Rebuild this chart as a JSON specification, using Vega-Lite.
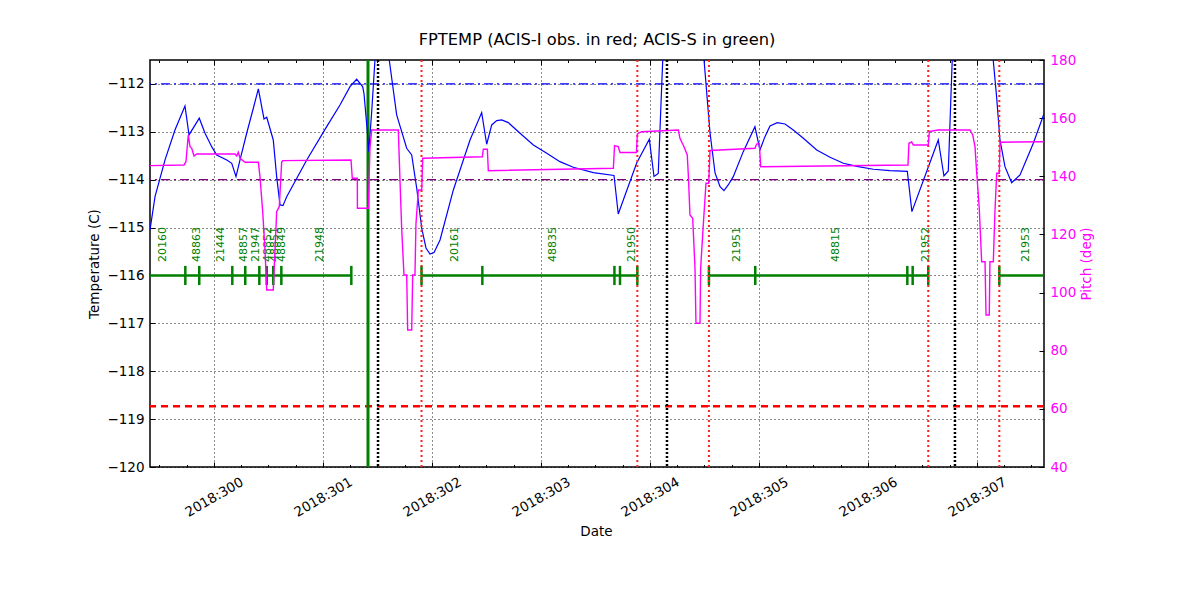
{
  "$schema": "https://vega.github.io/schema/vega-lite/v6.json",
  "width": 894,
  "height": 407,
  "autosize": {"type": "none"},
  "padding": {"left": 150, "top": 60, "right": 156, "bottom": 133},
  "title": {"text": "FPTEMP (ACIS-I obs. in red; ACIS-S in green)", "fontSize": 16.3, "fontWeight": "normal", "font": "DejaVu Sans", "color": "black", "offset": 5, "anchor": "middle"},
  "config": {
    "font": "DejaVu Sans",
    "view": {"stroke": "black", "strokeWidth": 1.5},
    "axis": {"labelFont": "DejaVu Sans", "titleFont": "DejaVu Sans", "labelFontSize": 13.5, "titleFontSize": 13.5, "titleFontWeight": "normal", "labelColor": "black", "titleColor": "black", "tickColor": "black", "domain": false, "gridColor": "black", "gridDash": [1, 3], "gridWidth": 1, "gridOpacity": 0.9}
  },
  "datasets": {
    "one": [{"k": 1}],
    "temp": [
      {"d": 299.413, "t": -115.05}, {"d": 299.459, "t": -114.354}, {"d": 299.551, "t": -113.587}, {"d": 299.642, "t": -112.961},
      {"d": 299.734, "t": -112.459}, {"d": 299.771, "t": -113.065}, {"d": 299.865, "t": -112.716}, {"d": 299.918, "t": -113.03},
      {"d": 299.979, "t": -113.31}, {"d": 300.025, "t": -113.483}, {"d": 300.117, "t": -113.587}, {"d": 300.163, "t": -113.657},
      {"d": 300.202, "t": -113.936}, {"d": 300.239, "t": -113.587}, {"d": 300.3, "t": -113.03}, {"d": 300.361, "t": -112.508},
      {"d": 300.407, "t": -112.104}, {"d": 300.459, "t": -112.731}, {"d": 300.484, "t": -112.696}, {"d": 300.544, "t": -113.17},
      {"d": 300.575, "t": -113.936}, {"d": 300.606, "t": -114.527}, {"d": 300.633, "t": -114.542}, {"d": 300.667, "t": -114.354},
      {"d": 300.851, "t": -113.587}, {"d": 301.034, "t": -112.892}, {"d": 301.156, "t": -112.439}, {"d": 301.248, "t": -112.056},
      {"d": 301.309, "t": -111.902}, {"d": 301.364, "t": -112.056}, {"d": 301.376, "t": -112.195}, {"d": 301.407, "t": -112.996},
      {"d": 301.42, "t": -113.414}, {"d": 301.447, "t": -112.579}, {"d": 301.477, "t": -111.499}, {"d": 301.541, "t": -110.6},
      {"d": 301.608, "t": -111.499}, {"d": 301.676, "t": -112.647}, {"d": 301.768, "t": -113.343}, {"d": 301.814, "t": -113.483},
      {"d": 301.86, "t": -114.179}, {"d": 301.906, "t": -115.014}, {"d": 301.945, "t": -115.426}, {"d": 301.982, "t": -115.551},
      {"d": 302.019, "t": -115.52}, {"d": 302.074, "t": -115.258}, {"d": 302.196, "t": -114.214}, {"d": 302.349, "t": -113.17},
      {"d": 302.456, "t": -112.599}, {"d": 302.502, "t": -113.26}, {"d": 302.548, "t": -112.856}, {"d": 302.594, "t": -112.767},
      {"d": 302.64, "t": -112.752}, {"d": 302.7, "t": -112.808}, {"d": 302.808, "t": -113.03}, {"d": 302.93, "t": -113.274},
      {"d": 303.053, "t": -113.447}, {"d": 303.174, "t": -113.623}, {"d": 303.296, "t": -113.74}, {"d": 303.48, "t": -113.853},
      {"d": 303.67, "t": -113.911}, {"d": 303.709, "t": -114.715}, {"d": 303.878, "t": -113.65}, {"d": 303.994, "t": -113.153},
      {"d": 304.037, "t": -113.932}, {"d": 304.076, "t": -113.87}, {"d": 304.117, "t": -111.499}, {"d": 304.303, "t": -110.5},
      {"d": 304.496, "t": -111.499}, {"d": 304.551, "t": -113.023}, {"d": 304.597, "t": -113.859}, {"d": 304.643, "t": -114.145},
      {"d": 304.679, "t": -114.229}, {"d": 304.718, "t": -114.11}, {"d": 304.764, "t": -113.936}, {"d": 304.856, "t": -113.414},
      {"d": 304.963, "t": -112.892}, {"d": 305.009, "t": -113.379}, {"d": 305.055, "t": -113.101}, {"d": 305.101, "t": -112.877},
      {"d": 305.168, "t": -112.808}, {"d": 305.239, "t": -112.836}, {"d": 305.315, "t": -112.961}, {"d": 305.407, "t": -113.134},
      {"d": 305.53, "t": -113.379}, {"d": 305.652, "t": -113.531}, {"d": 305.774, "t": -113.657}, {"d": 305.911, "t": -113.727},
      {"d": 306.049, "t": -113.782}, {"d": 306.202, "t": -113.811}, {"d": 306.361, "t": -113.824}, {"d": 306.403, "t": -114.667},
      {"d": 306.645, "t": -113.17}, {"d": 306.697, "t": -113.922}, {"d": 306.737, "t": -113.817}, {"d": 306.773, "t": -111.499},
      {"d": 306.954, "t": -110.6}, {"d": 307.149, "t": -111.499}, {"d": 307.18, "t": -112.265}, {"d": 307.211, "t": -113.17},
      {"d": 307.257, "t": -113.727}, {"d": 307.318, "t": -114.062}, {"d": 307.395, "t": -113.901}, {"d": 307.517, "t": -113.239},
      {"d": 307.615, "t": -112.62}
    ],
    "pitch": [
      {"d": 299.413, "p": 143.65}, {"d": 299.725, "p": 143.89}, {"d": 299.743, "p": 145.02}, {"d": 299.764, "p": 154.21},
      {"d": 299.78, "p": 150.18}, {"d": 299.796, "p": 149.63}, {"d": 299.817, "p": 146.98}, {"d": 299.841, "p": 147.67},
      {"d": 300.193, "p": 147.67}, {"d": 300.208, "p": 146.98}, {"d": 300.223, "p": 148.26}, {"d": 300.239, "p": 146.19},
      {"d": 300.285, "p": 144.82}, {"d": 300.407, "p": 144.82}, {"d": 300.422, "p": 139.86}, {"d": 300.447, "p": 127.82},
      {"d": 300.468, "p": 114.65}, {"d": 300.484, "p": 100.89}, {"d": 300.544, "p": 100.89}, {"d": 300.56, "p": 114.65},
      {"d": 300.575, "p": 127.82}, {"d": 300.599, "p": 129.54}, {"d": 300.621, "p": 144.82}, {"d": 300.63, "p": 145.37},
      {"d": 301.257, "p": 145.61}, {"d": 301.269, "p": 139.31}, {"d": 301.315, "p": 139.31}, {"d": 301.316, "p": 128.99},
      {"d": 301.416, "p": 128.99}, {"d": 301.431, "p": 149.73}, {"d": 301.447, "p": 155.93}, {"d": 301.691, "p": 155.93},
      {"d": 301.707, "p": 138.14}, {"d": 301.722, "p": 122.11}, {"d": 301.743, "p": 106.05}, {"d": 301.768, "p": 106.05},
      {"d": 301.777, "p": 87.13}, {"d": 301.814, "p": 87.13}, {"d": 301.823, "p": 106.05}, {"d": 301.844, "p": 106.05},
      {"d": 301.853, "p": 123.6}, {"d": 301.875, "p": 135.29}, {"d": 301.906, "p": 135.29}, {"d": 301.915, "p": 146.19},
      {"d": 302.462, "p": 146.74}, {"d": 302.471, "p": 149.29}, {"d": 302.508, "p": 149.29}, {"d": 302.517, "p": 141.93},
      {"d": 303.664, "p": 142.75}, {"d": 303.675, "p": 150.53}, {"d": 303.709, "p": 150.18}, {"d": 303.725, "p": 148.19},
      {"d": 303.876, "p": 148.19}, {"d": 303.884, "p": 154.55}, {"d": 303.924, "p": 155.34}, {"d": 304.26, "p": 155.93},
      {"d": 304.275, "p": 153.07}, {"d": 304.312, "p": 150.18}, {"d": 304.342, "p": 147.33}, {"d": 304.352, "p": 140.45},
      {"d": 304.367, "p": 126.69}, {"d": 304.392, "p": 125.55}, {"d": 304.413, "p": 108.35}, {"d": 304.422, "p": 89.43},
      {"d": 304.459, "p": 89.43}, {"d": 304.465, "p": 108.35}, {"d": 304.489, "p": 123.25}, {"d": 304.514, "p": 137.59},
      {"d": 304.539, "p": 137.59}, {"d": 304.551, "p": 148.88}, {"d": 304.963, "p": 149.63}, {"d": 304.979, "p": 151.11},
      {"d": 305.003, "p": 151.35}, {"d": 305.016, "p": 143.3}, {"d": 306.367, "p": 143.89}, {"d": 306.376, "p": 151.35},
      {"d": 306.401, "p": 151.8}, {"d": 306.416, "p": 150.77}, {"d": 306.553, "p": 150.77}, {"d": 306.563, "p": 155.41},
      {"d": 306.615, "p": 155.76}, {"d": 306.645, "p": 155.93}, {"d": 306.936, "p": 155.93}, {"d": 306.961, "p": 154.21},
      {"d": 306.982, "p": 150.18}, {"d": 306.997, "p": 141.58}, {"d": 307.021, "p": 128.99}, {"d": 307.043, "p": 110.62},
      {"d": 307.074, "p": 110.62}, {"d": 307.083, "p": 92.29}, {"d": 307.113, "p": 92.29}, {"d": 307.119, "p": 110.62},
      {"d": 307.15, "p": 110.62}, {"d": 307.165, "p": 127.82}, {"d": 307.181, "p": 141.03}, {"d": 307.205, "p": 141.03},
      {"d": 307.211, "p": 151.7}, {"d": 307.615, "p": 151.9}
    ],
    "obs": [
      {"d": 299.3, "d2": 301.26}, {"d": 301.904, "d2": 303.884}, {"d": 304.541, "d2": 306.553}, {"d": 307.205, "d2": 307.7}
    ],
    "ticks": [
      {"d": 299.737}, {"d": 299.865}, {"d": 300.168}, {"d": 300.287}, {"d": 300.416}, {"d": 300.484}, {"d": 300.544},
      {"d": 300.618}, {"d": 301.26}, {"d": 301.904}, {"d": 302.462}, {"d": 303.674}, {"d": 303.725}, {"d": 303.884},
      {"d": 304.541}, {"d": 304.966}, {"d": 306.361}, {"d": 306.41}, {"d": 306.553}, {"d": 307.205}
    ],
    "labels": [
      {"d": 299.53, "label": "20160"}, {"d": 299.846, "label": "48863"}, {"d": 300.066, "label": "21444"},
      {"d": 300.274, "label": "48857"}, {"d": 300.39, "label": "21947"}, {"d": 300.498, "label": "48852"},
      {"d": 300.56, "label": "48851"}, {"d": 300.626, "label": "48849"}, {"d": 300.977, "label": "21948"},
      {"d": 302.214, "label": "20161"}, {"d": 303.108, "label": "48835"}, {"d": 303.835, "label": "21950"},
      {"d": 304.796, "label": "21951"}, {"d": 305.709, "label": "48815"}, {"d": 306.534, "label": "21952"},
      {"d": 307.447, "label": "21953"}
    ],
    "vred": [{"d": 301.904}, {"d": 303.884}, {"d": 304.541}, {"d": 306.553}, {"d": 307.205}],
    "vblack": [{"d": 301.505}, {"d": 304.156}, {"d": 306.798}]
  },
  "layer": [
    {
      "layer": [
        {"data": {"name": "one"}, "mark": {"type": "rule", "color": "blue", "strokeWidth": 1.3, "strokeDash": [9, 4, 2, 4]}, "encoding": {"y": {"datum": -112}}},
        {"data": {"name": "one"}, "mark": {"type": "rule", "color": "#800080", "strokeWidth": 1.3, "strokeDash": [9, 4, 2, 4]}, "encoding": {"y": {"datum": -114}}},
        {"data": {"name": "one"}, "mark": {"type": "rule", "color": "red", "strokeWidth": 2.5, "strokeDash": [7, 5]}, "encoding": {"y": {"datum": -118.73}}},
        {"data": {"name": "one"}, "mark": {"type": "rule", "color": "#008000", "strokeWidth": 3}, "encoding": {"x": {"datum": 301.413}}},
        {"data": {"name": "obs"}, "mark": {"type": "rule", "color": "#008000", "strokeWidth": 2.5, "clip": true},
         "encoding": {"x": {"field": "d", "type": "quantitative"}, "x2": {"field": "d2"}, "y": {"datum": -116}}},
        {"data": {"name": "ticks"}, "mark": {"type": "rule", "color": "#008000", "strokeWidth": 2.5},
         "encoding": {"x": {"field": "d", "type": "quantitative"}, "y": {"datum": -116.2}, "y2": {"datum": -115.8}}},
        {"data": {"name": "labels"}, "mark": {"type": "text", "color": "#008000", "fontSize": 11, "angle": 270, "align": "left", "baseline": "middle", "font": "DejaVu Sans"},
         "encoding": {"x": {"field": "d", "type": "quantitative"}, "y": {"datum": -115.72}, "text": {"field": "label"}}},
        {"data": {"name": "temp"}, "mark": {"type": "line", "color": "blue", "strokeWidth": 1.2, "clip": true},
         "encoding": {
           "x": {"field": "d", "type": "quantitative", "scale": {"domain": [299.413, 307.615], "nice": false, "zero": false},
                 "axis": {"title": "Date", "values": [300, 301, 302, 303, 304, 305, 306, 307], "labelExpr": "'2018:' + datum.value",
                          "labelAngle": -30, "labelAlign": "center", "labelBaseline": "middle", "tickSize": -5, "labelPadding": 35,
                          "grid": true, "titleX": 446, "titleY": 64, "titleBaseline": "middle", "titleAlign": "center"}},
           "y": {"field": "t", "type": "quantitative", "scale": {"domain": [-120, -111.5], "nice": false, "zero": false},
                 "axis": {"title": "Temperature (C)", "values": [-120, -119, -118, -117, -116, -115, -114, -113, -112], "tickSize": -5, "labelPadding": 11,
                          "grid": true, "titleAngle": 270, "titleX": -56, "titleY": 203.5, "titleBaseline": "middle", "titleAlign": "center"}}
         }}
      ]
    },
    {
      "data": {"name": "vred"},
      "mark": {"type": "rule", "color": "#ff2020", "strokeWidth": 2, "strokeDash": [2, 3]},
      "encoding": {"x": {"field": "d", "type": "quantitative", "scale": {"domain": [299.413, 307.615], "nice": false, "zero": false},
                         "axis": {"orient": "top", "values": [300, 301, 302, 303, 304, 305, 306, 307], "labels": false, "tickSize": -5, "grid": false, "title": null}}}
    },
    {
      "data": {"name": "vblack"},
      "mark": {"type": "rule", "color": "black", "strokeWidth": 2.5, "strokeDash": [2, 2]},
      "encoding": {"x": {"field": "d", "type": "quantitative", "scale": {"domain": [299.413, 307.615], "nice": false, "zero": false},
                         "axis": {"orient": "top", "values": [299.5, 299.75, 300.25, 300.5, 300.75, 301.25, 301.5, 301.75, 302.25, 302.5, 302.75, 303.25, 303.5, 303.75, 304.25, 304.5, 304.75, 305.25, 305.5, 305.75, 306.25, 306.5, 306.75, 307.25, 307.5], "labels": false, "tickSize": -2.5, "grid": false, "title": null}}}
    },
    {
      "data": {"name": "pitch"},
      "mark": {"type": "line", "color": "#ff00ff", "strokeWidth": 1.4, "clip": true},
      "encoding": {
        "x": {"field": "d", "type": "quantitative", "scale": {"domain": [299.413, 307.615], "nice": false, "zero": false},
              "axis": {"orient": "bottom", "values": [299.5, 299.75, 300.25, 300.5, 300.75, 301.25, 301.5, 301.75, 302.25, 302.5, 302.75, 303.25, 303.5, 303.75, 304.25, 304.5, 304.75, 305.25, 305.5, 305.75, 306.25, 306.5, 306.75, 307.25, 307.5], "labels": false, "tickSize": -2.5, "grid": false, "title": null}},
        "y": {"field": "p", "type": "quantitative", "scale": {"domain": [40, 180], "nice": false, "zero": false},
              "axis": {"orient": "right", "title": "Pitch (deg)", "values": [40, 60, 80, 100, 120, 140, 160, 180], "tickSize": -5, "labelPadding": 11,
                       "labelColor": "#ff00ff", "titleColor": "#ff00ff", "grid": false, "titleAngle": 270, "titleX": 42, "titleY": 203.5, "titleBaseline": "middle", "titleAlign": "center"}}
      }
    }
  ],
  "resolve": {"scale": {"y": "independent"}, "axis": {"x": "independent", "y": "independent"}}
}
